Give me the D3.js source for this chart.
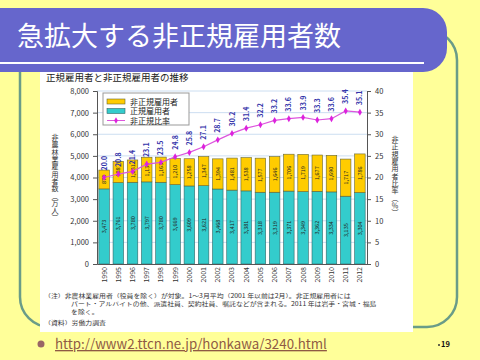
<!DOCTYPE html>
<html>
<head>
<meta charset="utf-8">
<script src="https://cdn.jsdelivr.net/npm/d3@7"></script>
<style>
  body { margin: 0; background: #FFFF99; }
  svg { display: block; }
  text { font-family: "Noto Sans CJK JP", "Noto Sans", sans-serif; }
  .note { position: absolute; font-family: "Noto Sans CJK JP", sans-serif; font-size: 5.5px; line-height: 8px; height: 8px; color: #333; white-space: nowrap; transform: scaleX(1.25); transform-origin: 0 0; }
  .vtitle { position: absolute; font-family: "Noto Sans CJK JP", sans-serif; font-size: 7px; line-height: 8px; color: #333; writing-mode: vertical-rl; letter-spacing: 0.3px; }
</style>
</head>
<body>
<div id="slide" style="position: relative; width: 480px; height: 360px;"></div>
<script>
// Chart data
var years = ["1990", "1995", "1996", "1997", "1998", "1999", "2000", "2001", "2002", "2003",
  "2004", "2005", "2006", "2007", "2008", "2009", "2010", "2011", "2012"];
var regular = [3473, 3761, 3780, 3797, 3780, 3669, 3609, 3621, 3468, 3417,
  3381, 3318, 3319, 3371, 3349, 3362, 3334, 3135, 3304];
var nonRegular = [870, 988, 1031, 1139, 1163, 1210, 1258, 1347, 1394, 1481,
  1538, 1577, 1646, 1706, 1719, 1677, 1690, 1717, 1786];
var ratio = [20.0, 20.8, 21.4, 23.1, 23.5, 24.8, 25.8, 27.1, 28.7, 30.2,
  31.4, 32.2, 33.2, 33.6, 33.9, 33.3, 33.6, 35.4, 35.1];
var leftTicks = [0, 1000, 2000, 3000, 4000, 5000, 6000, 7000, 8000];
var rightTicks = [0, 5, 10, 15, 20, 25, 30, 35, 40];
var legendLabels = ["非正規雇用者", "正規雇用者", "非正規比率"];
var leftTitle = "非農林業雇用者数（万人）";
var rightTitle = "非正規雇用者比率（％）";
var noteLines = [
  "（注）非農林業雇用者（役員を除く）が対象。1～3月平均（2001 年以前は2月）。非正規雇用者には",
  "パート・アルバイトの他、派遣社員、契約社員、嘱託などが含まれる。2011 年は岩手・宮城・福島",
  "を除く。",
  "（資料）労働力調査"
];

var rows = years.map(function(yr, i) {
  return { year: yr, regular: regular[i], nonRegular: nonRegular[i], ratio: ratio[i] };
});

var svgWidth = 480;
var svgHeight = 360;

var slide = d3.select("#slide");

var svg = slide
  .append("svg")
  .attr("width", svgWidth)
  .attr("height", svgHeight);

// Slide background and frame
svg.append("rect")
  .attr("width", svgWidth)
  .attr("height", svgHeight)
  .attr("fill", "#FFFF99");

svg.append("rect")
  .attr("x", 20)
  .attr("y", 30)
  .attr("width", 437)
  .attr("height", 297)
  .attr("rx", 30)
  .attr("fill", "none")
  .attr("stroke", "#6A9C88")
  .attr("stroke-width", 2.5);

// Title banner
svg.append("rect")
  .attr("x", -30)
  .attr("y", 8)
  .attr("width", 477)
  .attr("height", 64)
  .attr("rx", 24)
  .attr("fill", "#6666CC");

svg.append("line")
  .attr("x1", 0)
  .attr("x2", 424)
  .attr("y1", 63)
  .attr("y2", 63)
  .attr("stroke", "#FFFFFF")
  .attr("stroke-width", 2);

svg.append("text")
  .attr("x", 17)
  .attr("y", 46)
  .attr("fill", "#FFFFFF")
  .attr("font-size", 27)
  .text("急拡大する非正規雇用者数");

// White picture box
svg.append("rect")
  .attr("x", 40)
  .attr("y", 72)
  .attr("width", 373)
  .attr("height", 260)
  .attr("fill", "#FFFFFF");

svg.append("text")
  .attr("x", 46)
  .attr("y", 81)
  .attr("font-size", 9.5)
  .attr("fill", "#222")
  .text("正規雇用者と非正規雇用者の推移");

// Scales
var xScale = d3.scaleBand()
  .domain(years)
  .range([97, 367])
  .paddingInner(0.26)
  .paddingOuter(0.13);

var yScale = d3.scaleLinear()
  .domain([0, 8000])
  .range([264, 91]);

var y2Scale = d3.scaleLinear()
  .domain([0, 40])
  .range([264, 91]);

var chartGroup = svg.append("g");

// Gridlines
chartGroup.selectAll(".grid")
  .data(leftTicks.slice(1))
  .enter()
  .append("line")
  .attr("x1", 97)
  .attr("x2", 367)
  .attr("y1", d => yScale(d))
  .attr("y2", d => yScale(d))
  .attr("stroke", "#BFD6EE")
  .attr("stroke-width", 0.8);

// Stacked bars
var barGroup = chartGroup.selectAll(".bar")
  .data(rows)
  .enter()
  .append("g");

barGroup.append("rect")
  .attr("x", d => xScale(d.year))
  .attr("width", xScale.bandwidth())
  .attr("y", d => yScale(d.regular))
  .attr("height", d => yScale(0) - yScale(d.regular))
  .attr("fill", "#33CCCC")
  .attr("stroke", "#336666")
  .attr("stroke-width", 0.6);

barGroup.append("rect")
  .attr("x", d => xScale(d.year))
  .attr("width", xScale.bandwidth())
  .attr("y", d => yScale(d.regular + d.nonRegular))
  .attr("height", d => yScale(d.regular) - yScale(d.regular + d.nonRegular))
  .attr("fill", "#FFCC00")
  .attr("stroke", "#666633")
  .attr("stroke-width", 0.6);

// Bar value labels
var fmt = d3.format(",");

barGroup.append("text")
  .attr("transform", d => `translate(${xScale(d.year) + xScale.bandwidth() / 2 + 2}, ${yScale(d.regular / 2)}) rotate(-90)`)
  .attr("text-anchor", "middle")
  .attr("font-size", 5.5)
  .attr("font-family", "Liberation Sans, Arial, sans-serif")
  .attr("fill", "#222")
  .text(d => fmt(d.regular));

barGroup.append("text")
  .attr("transform", d => `translate(${xScale(d.year) + xScale.bandwidth() / 2 + 2}, ${yScale(d.regular + d.nonRegular / 2)}) rotate(-90)`)
  .attr("text-anchor", "middle")
  .attr("font-size", 5.5)
  .attr("font-family", "Liberation Sans, Arial, sans-serif")
  .attr("fill", "#222")
  .text(d => fmt(d.nonRegular));

// Ratio line
var line = d3.line()
  .x(d => xScale(d.year) + xScale.bandwidth() / 2)
  .y(d => y2Scale(d.ratio));

chartGroup.append("path")
  .datum(rows)
  .attr("d", line)
  .attr("fill", "none")
  .attr("stroke", "#DD55DD")
  .attr("stroke-width", 1.2);

chartGroup.selectAll(".marker")
  .data(rows)
  .enter()
  .append("path")
  .attr("d", d3.symbol(d3.symbolDiamond, 14))
  .attr("transform", d => `translate(${xScale(d.year) + xScale.bandwidth() / 2}, ${y2Scale(d.ratio)})`)
  .attr("fill", "#DD22DD");

chartGroup.selectAll(".ratioText")
  .data(rows)
  .enter()
  .append("text")
  .attr("transform", d => `translate(${xScale(d.year) + xScale.bandwidth() / 2 + 2.5}, ${y2Scale(d.ratio) - 7}) rotate(-90)`)
  .attr("font-size", 7)
  .attr("font-weight", "bold")
  .attr("font-family", "Liberation Sans, Arial, sans-serif")
  .attr("fill", "#3333AA")
  .text(d => d.ratio.toFixed(1));

// Axes
var leftAxis = d3.axisLeft(yScale)
  .tickValues(leftTicks)
  .tickFormat(fmt)
  .tickSize(4)
  .tickPadding(4);

var rightAxis = d3.axisRight(y2Scale)
  .tickValues(rightTicks)
  .tickSize(4)
  .tickPadding(4);

var bottomAxis = d3.axisBottom(xScale)
  .tickSize(0)
  .tickPadding(3);

var yAxis = chartGroup.append("g")
  .attr("transform", "translate(97, 0)")
  .call(leftAxis);

var y2Axis = chartGroup.append("g")
  .attr("transform", "translate(367, 0)")
  .call(rightAxis);

var xAxis = chartGroup.append("g")
  .attr("transform", "translate(0, 264)")
  .call(bottomAxis);

[yAxis, y2Axis, xAxis].forEach(function(ax) {
  ax.select(".domain").attr("stroke", "#555");
  ax.selectAll(".tick line").attr("stroke", "#555");
  ax.selectAll("text")
    .attr("font-size", 7.5)
    .attr("fill", "#333")
    .attr("font-family", "Liberation Sans, Arial, sans-serif");
});

xAxis.selectAll("text")
  .attr("font-size", 7)
  .attr("transform", "rotate(-90)")
  .attr("text-anchor", "end")
  .attr("x", -3)
  .attr("y", 0)
  .attr("dy", "0.35em");

// Legend
var legend = svg.append("g")
  .attr("transform", "translate(103, 93)");

legend.append("rect")
  .attr("width", 86)
  .attr("height", 32)
  .attr("fill", "#FFFFFF")
  .attr("stroke", "#999");

var legendItems = legend.selectAll(".item")
  .data(legendLabels)
  .enter()
  .append("g")
  .attr("transform", (d, i) => `translate(4, ${6 + i * 9.5})`);

legendItems.filter((d, i) => i < 2)
  .append("rect")
  .attr("width", 18)
  .attr("height", 5)
  .attr("fill", (d, i) => i === 0 ? "#FFCC00" : "#33CCCC")
  .attr("stroke", (d, i) => i === 0 ? "#666633" : "#336666")
  .attr("stroke-width", 0.6);

legendItems.filter((d, i) => i === 2)
  .append("line")
  .attr("x1", 0)
  .attr("x2", 18)
  .attr("y1", 2.5)
  .attr("y2", 2.5)
  .attr("stroke", "#DD55DD")
  .attr("stroke-width", 1);

legendItems.filter((d, i) => i === 2)
  .append("path")
  .attr("d", d3.symbol(d3.symbolDiamond, 12))
  .attr("transform", "translate(9, 2.5)")
  .attr("fill", "#DD22DD");

legendItems.append("text")
  .attr("x", 23)
  .attr("y", 5.5)
  .attr("font-size", 8)
  .attr("fill", "#222")
  .text(d => d);

// Vertical axis titles as HTML blocks over the svg
slide.append("div")
  .attr("class", "vtitle")
  .style("left", "51px")
  .style("top", "134px")
  .text(leftTitle);

slide.append("div")
  .attr("class", "vtitle")
  .style("left", "391px")
  .style("top", "136px")
  .text(rightTitle);

// Notes under the chart, one block per line
slide.selectAll(".note")
  .data(noteLines)
  .enter()
  .append("div")
  .attr("class", "note")
  .style("left", (d, i) => (i === 1 || i === 2) ? "71px" : "44px")
  .style("top", (d, i) => [292, 300, 308, 319][i] + "px")
  .text(d => d);

// Link line at the bottom
svg.append("circle")
  .attr("cx", 41)
  .attr("cy", 344)
  .attr("r", 3.5)
  .attr("fill", "#996666");

svg.append("text")
  .attr("x", 55)
  .attr("y", 349)
  .attr("font-size", 13.3)
  .attr("font-family", "Liberation Sans, Arial, sans-serif")
  .attr("fill", "#8F5A44")
  .attr("text-decoration", "underline")
  .text("http://www2.ttcn.ne.jp/honkawa/3240.html");

svg.append("circle")
  .attr("cx", 439)
  .attr("cy", 345)
  .attr("r", 1)
  .attr("fill", "#333");

svg.append("text")
  .attr("x", 441)
  .attr("y", 347)
  .attr("font-size", 7.5)
  .attr("font-weight", "bold")
  .attr("font-family", "Liberation Sans, Arial, sans-serif")
  .attr("fill", "#111")
  .text("19");
</script>
</body>
</html>
